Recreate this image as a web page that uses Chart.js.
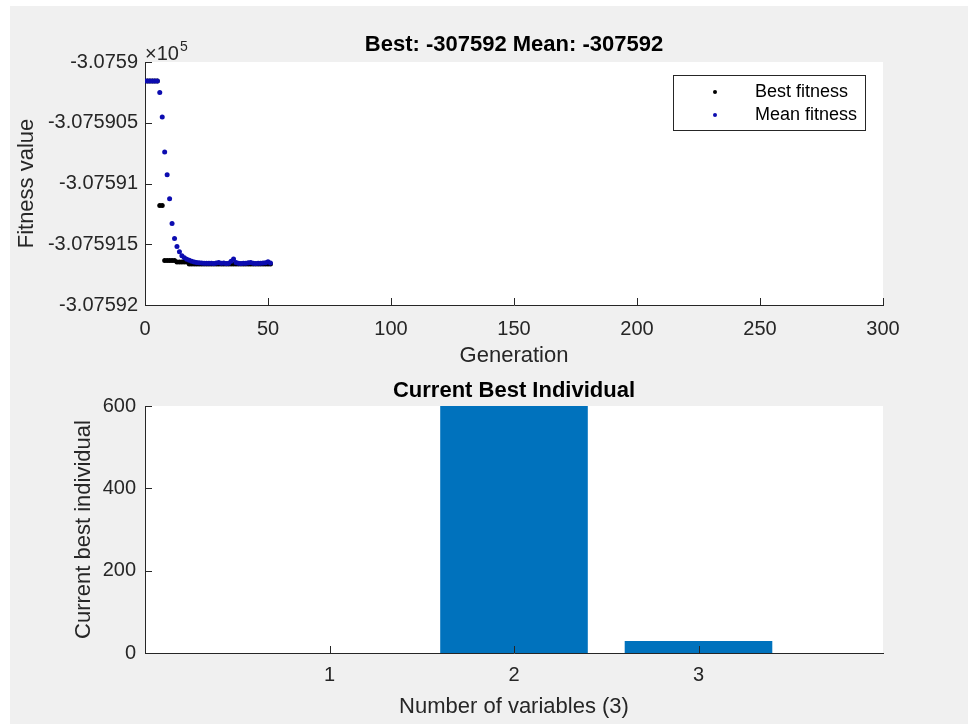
<!DOCTYPE html>
<html>
<head>
<meta charset="utf-8">
<style>
body { margin: 0; background: #ffffff; }
div.fig { position: absolute; left: 10px; top: 6px; width: 958px; height: 718px; background: #f0f0f0; }
canvas { position: absolute; left: 0; }
#topChart { top: 0; }
#barChart { top: 380px; }
</style>
<script src="https://cdn.jsdelivr.net/npm/chart.js"></script>
</head>
<body>
<div class="fig"></div>
<canvas id="topChart" width="968" height="380"></canvas>
<canvas id="barChart" width="968" height="344"></canvas>

<script>
// ---- data ----
const generations = [0,1,2,3,4,5,6,7,8,9,10,11,12,13,14,15,16,17,18,19,20,21,22,23,24,25,
                     26,27,28,29,30,31,32,33,34,35,36,37,38,39,40,41,42,43,44,45,46,47,48,49,50,51];

const bestFitness = [
  -307590.156, -307590.156, -307590.156, -307590.156, -307590.156, -307590.156,
  -307591.181, -307591.181,
  -307591.634, -307591.634, -307591.634, -307591.634, -307591.634,
  -307591.647, -307591.647, -307591.647, -307591.647, -307591.647,
  -307591.663, -307591.663, -307591.663, -307591.663, -307591.663, -307591.663,
  -307591.663, -307591.663, -307591.663, -307591.663, -307591.663, -307591.663,
  -307591.663, -307591.663, -307591.663, -307591.663, -307591.663, -307591.663,
  -307591.663, -307591.663, -307591.663, -307591.663, -307591.663, -307591.663,
  -307591.663, -307591.663, -307591.663, -307591.663, -307591.663, -307591.663,
  -307591.663, -307591.663, -307591.663, -307591.663
];

const meanFitness = [
  -307590.156, -307590.156, -307590.156, -307590.156, -307590.156, -307590.156,
  -307590.252, -307590.452, -307590.740, -307590.929, -307591.126, -307591.329,
  -307591.452, -307591.518, -307591.562, -307591.595, -307591.611, -307591.623,
  -307591.632, -307591.640, -307591.646, -307591.650, -307591.653, -307591.655,
  -307591.656, -307591.657, -307591.657, -307591.657, -307591.658, -307591.655,
  -307591.650, -307591.657, -307591.654, -307591.658, -307591.656, -307591.640,
  -307591.622, -307591.650, -307591.657, -307591.658, -307591.656, -307591.657,
  -307591.652, -307591.650, -307591.657, -307591.658, -307591.657, -307591.656,
  -307591.655, -307591.652, -307591.645, -307591.655
];

const varIndex = [1, 2, 3];
const bestIndividual = [0, 600, 29];

const topTitle = 'Best: -307592 Mean: -307592';
const barTitle = 'Current Best Individual';

const FONT = "'Liberation Sans', Arial, Helvetica, sans-serif";
const AXIS = '#262626';
Chart.defaults.font.family = FONT;

// white plot box
const plotBg = {
  id: 'plotBg',
  beforeDraw(chart) {
    const a = chart.chartArea, ctx = chart.ctx;
    ctx.save();
    ctx.fillStyle = '#ffffff';
    ctx.fillRect(a.left, a.top, a.right - a.left, a.bottom - a.top);
    ctx.restore();
  }
};

// matlab style ticks pointing into the axes
const inTicks = {
  id: 'inTicks',
  afterDraw(chart) {
    const a = chart.chartArea, ctx = chart.ctx;
    ctx.save();
    ctx.strokeStyle = AXIS;
    ctx.lineWidth = 1;
    Object.values(chart.scales).forEach(s => {
      s.ticks.forEach(t => {
        const p = Math.round(s.getPixelForValue(t.value)) + 0.5;
        ctx.beginPath();
        if (s.isHorizontal()) {
          ctx.moveTo(p, a.bottom);
          ctx.lineTo(p, a.bottom - 7);
        } else {
          ctx.moveTo(a.left, p);
          ctx.lineTo(a.left + 7, p);
        }
        ctx.stroke();
      });
    });
    ctx.restore();
  }
};

const legendBox = {
  id: 'legendBox',
  afterDraw(chart) {
    const a = chart.chartArea, ctx = chart.ctx;
    const L = a.right - 210, T = a.top + 13, W = 192, H = 55;
    ctx.save();
    ctx.fillStyle = '#ffffff';
    ctx.fillRect(L, T, W, H);
    ctx.strokeStyle = AXIS;
    ctx.lineWidth = 1;
    ctx.strokeRect(L + 0.5, T + 0.5, W, H);
    ctx.font = '18px ' + FONT;
    ctx.textBaseline = 'middle';
    chart.data.datasets.forEach((ds, i) => {
      const y = T + 17 + i * 23;
      ctx.fillStyle = ds.backgroundColor;
      ctx.beginPath();
      ctx.arc(L + 42, y, 2, 0, 2 * Math.PI);
      ctx.fill();
      ctx.fillStyle = '#000000';
      ctx.fillText(ds.label, L + 82, y);
    });
    ctx.restore();
  }
};

// the x10^5 exponent over the y axis
const expLabel = {
  id: 'expLabel',
  afterDraw(chart) {
    const a = chart.chartArea, ctx = chart.ctx;
    ctx.save();
    ctx.fillStyle = AXIS;
    ctx.textBaseline = 'alphabetic';
    ctx.font = '20px ' + FONT;
    ctx.fillText('\u00d710', a.left, a.top - 2);
    const w = ctx.measureText('\u00d710').width;
    ctx.font = '14px ' + FONT;
    ctx.fillText('5', a.left + w + 1, a.top - 11);
    ctx.restore();
  }
};

new Chart(document.getElementById('topChart'), {
  type: 'scatter',
  data: {
    datasets: [
      {
        label: 'Best fitness',
        data: generations.map((g, i) => ({x: g, y: bestFitness[i]})),
        backgroundColor: '#000000',
        borderWidth: 0,
        pointRadius: 2.5,
        order: 2
      },
      {
        label: 'Mean fitness',
        data: generations.map((g, i) => ({x: g, y: meanFitness[i]})),
        backgroundColor: '#0c0cb0',
        borderWidth: 0,
        pointRadius: 2.5,
        order: 1
      }
    ]
  },
  options: {
    responsive: false,
    animation: false,
    layout: { padding: { left: 0, right: 85, top: 0, bottom: 0 } },
    plugins: {
      legend: { display: false },
      tooltip: { enabled: false },
      title: {
        display: true,
        fullSize: false,
        text: topTitle,
        color: '#000000',
        font: { size: 22, weight: 'bold', lineHeight: 1.2 },
        padding: { top: 32, bottom: 3.6 }
      }
    },
    scales: {
      x: {
        type: 'linear',
        min: 0,
        max: 300,
        grid: { display: false, drawTicks: false },
        border: { color: AXIS, width: 1 },
        ticks: { stepSize: 50, padding: 12, color: AXIS, font: { size: 20 }, maxRotation: 0, autoSkip: false },
        title: { display: true, text: 'Generation', color: AXIS, font: { size: 22 }, padding: { top: 0, bottom: 11 } },
        afterFit: s => { s.height = 75; }
      },
      y: {
        min: -307592,
        max: -307590,
        grid: { display: false, drawTicks: false },
        border: { color: AXIS, width: 1 },
        ticks: {
          stepSize: 0.5, padding: 7, color: AXIS, font: { size: 20 },
          callback: v => parseFloat((v / 1e5).toFixed(8)).toString()
        },
        title: { display: true, text: 'Fitness value', color: AXIS, font: { size: 22 }, padding: { top: 14, bottom: 0 } },
        afterFit: s => { s.width = 145; }
      }
    }
  },
  plugins: [plotBg, inTicks, legendBox, expLabel]
});

new Chart(document.getElementById('barChart'), {
  type: 'bar',
  data: {
    datasets: [{
      label: 'Current best individual',
      data: varIndex.map((v, i) => ({x: v, y: bestIndividual[i]})),
      backgroundColor: '#0072bd',
      borderWidth: 0,
      barPercentage: 0.8,
      categoryPercentage: 1
    }]
  },
  options: {
    responsive: false,
    animation: false,
    layout: { padding: { left: 0, right: 85, top: 0, bottom: 0 } },
    plugins: {
      legend: { display: false },
      tooltip: { enabled: false },
      title: {
        display: true,
        fullSize: false,
        text: barTitle,
        color: '#000000',
        font: { size: 22, weight: 'bold', lineHeight: 1 },
        padding: { top: 0, bottom: 4 }
      }
    },
    scales: {
      x: {
        type: 'linear',
        min: 0,
        max: 4,
        offset: false,
        grid: { display: false, drawTicks: false, offset: false },
        border: { color: AXIS, width: 1 },
        afterBuildTicks: s => { s.ticks = varIndex.map(v => ({value: v})); },
        ticks: { padding: 10, color: AXIS, font: { size: 20 }, maxRotation: 0, autoSkip: false },
        title: { display: true, text: 'Number of variables (3)', color: AXIS, font: { size: 22 }, padding: { top: 0, bottom: 4 } },
        afterFit: s => { s.height = 71; }
      },
      y: {
        min: 0,
        max: 600,
        grid: { display: false, drawTicks: false },
        border: { color: AXIS, width: 1 },
        ticks: { stepSize: 200, padding: 9, color: AXIS, font: { size: 20 } },
        title: { display: true, text: 'Current best individual', color: AXIS, font: { size: 22 }, padding: { top: 71, bottom: 0 } },
        afterFit: s => { s.width = 145; }
      }
    }
  },
  plugins: [plotBg, inTicks]
});
</script>
</body>
</html>
